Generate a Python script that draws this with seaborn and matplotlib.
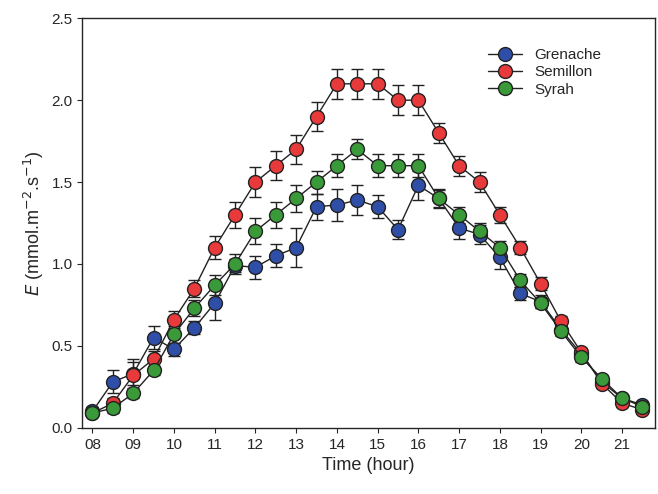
import numpy as np
import pandas as pd
import seaborn as sns
import matplotlib.pyplot as plt

hours = [8 + 0.5 * i for i in range(28)]
grenache = [0.10, 0.28, 0.33, 0.55, 0.48, 0.61, 0.76, 0.99, 0.98, 1.05, 1.10, 1.35, 1.36, 1.39,
            1.35, 1.21, 1.48, 1.40, 1.22, 1.18, 1.04, 0.82, 0.77, 0.60, 0.45, 0.28, 0.18, 0.14]
grenache_err = [0.03, 0.07, 0.07, 0.07, 0.04, 0.04, 0.10, 0.04, 0.07, 0.07, 0.12, 0.08, 0.10, 0.09,
                0.07, 0.06, 0.09, 0.05, 0.07, 0.06, 0.07, 0.04, 0.04, 0.03, 0.03, 0.03, 0.02, 0.02]
semillon = [0.09, 0.15, 0.32, 0.42, 0.66, 0.85, 1.10, 1.30, 1.50, 1.60, 1.70, 1.90, 2.10, 2.10,
            2.10, 2.00, 2.00, 1.80, 1.60, 1.50, 1.30, 1.10, 0.88, 0.65, 0.46, 0.27, 0.15, 0.11]
semillon_err = [0.02, 0.03, 0.10, 0.05, 0.05, 0.05, 0.07, 0.08, 0.09, 0.09, 0.09, 0.09, 0.09, 0.09,
                0.09, 0.09, 0.09, 0.06, 0.06, 0.06, 0.05, 0.04, 0.04, 0.03, 0.03, 0.03, 0.02, 0.02]
syrah = [0.09, 0.12, 0.21, 0.35, 0.57, 0.73, 0.87, 1.00, 1.20, 1.30, 1.40, 1.50, 1.60, 1.70,
         1.60, 1.60, 1.60, 1.40, 1.30, 1.20, 1.10, 0.90, 0.76, 0.59, 0.43, 0.30, 0.18, 0.13]
syrah_err = [0.02, 0.03, 0.03, 0.03, 0.05, 0.05, 0.06, 0.06, 0.08, 0.08, 0.08, 0.07, 0.07, 0.06,
             0.07, 0.07, 0.07, 0.06, 0.05, 0.05, 0.04, 0.04, 0.03, 0.03, 0.03, 0.02, 0.02, 0.02]

series = {'Grenache': (grenache, grenache_err, '#2f4ea8'),
          'Semillon': (semillon, semillon_err, '#e83a3a'),
          'Syrah': (syrah, syrah_err, '#3a9a3a')}

rows = []
for name, (vals, errs, _) in series.items():
    for h, v, e in zip(hours, vals, errs):
        rows.append({'hour': h, 'E': v, 'err': e, 'cultivar': name})
df = pd.DataFrame(rows)

sns.set_style('ticks')
plt.rcParams['font.family'] = ['Liberation Sans', 'DejaVu Sans']
fig, ax = plt.subplots(figsize=(6.58, 4.94), dpi=100)
fig.subplots_adjust(left=0.125, right=0.995, top=0.963, bottom=0.134)

for name, (vals, errs, color) in series.items():
    d = df[df.cultivar == name]
    ax.errorbar(d.hour, d.E, yerr=d.err, fmt='none', ecolor='#222222', elinewidth=1, capsize=4, capthick=1, zorder=1)
    sns.lineplot(data=d, x='hour', y='E', ax=ax, color='#222222', lw=1, marker='o', markersize=10,
                 markerfacecolor=color, markeredgecolor='#222222', markeredgewidth=1, label=name, zorder=2)

ax.set_xlim(7.75, 21.8)
ax.set_ylim(0, 2.5)
ax.set_xticks(range(8, 22))
ax.set_xticklabels([f'{h:02d}' for h in range(8, 22)])
ax.set_yticks(np.arange(0, 2.51, 0.5))
ax.set_yticklabels([f'{v:.1f}' for v in np.arange(0, 2.51, 0.5)])
ax.tick_params(labelsize=11, direction='out')
ax.set_xlabel('Time (hour)', fontsize=13)
ax.set_ylabel(r'$\it{E}$ (mmol.m$^{-2}$.s$^{-1}$)', fontsize=13)
for s in ax.spines.values():
    s.set_visible(True)
    s.set_linewidth(1)
ax.legend(loc='upper right', bbox_to_anchor=(0.93, 0.96), frameon=False, fontsize=11,
          handlelength=2.2, labelspacing=0.2)
fig.savefig('out.png', dpi=100)
